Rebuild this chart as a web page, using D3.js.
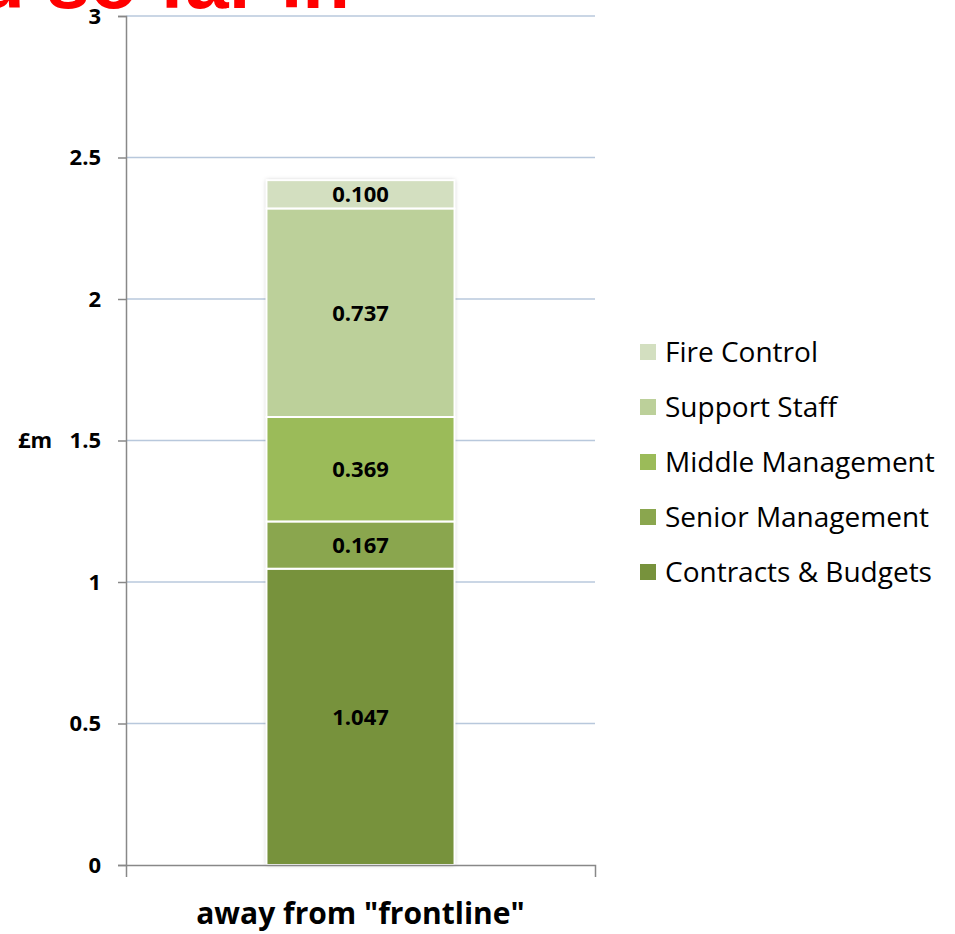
<!DOCTYPE html>
<html>
<head>
<meta charset="utf-8">
<script src="https://cdn.jsdelivr.net/npm/d3@7"></script>
<style>
  body { margin: 0; background: #fff; }
  text { font-family: "Open Sans", "Liberation Sans", sans-serif; }
</style>
</head>
<body>
<div id="root"></div>
<script>
// Chart data
const categories = ["away from \"frontline\""];
const seriesNames = ["Contracts & Budgets", "Senior Management", "Middle Management", "Support Staff", "Fire Control"];
const seriesValues = [1.047, 0.167, 0.369, 0.737, 0.100];
const seriesColors = ["#77923c", "#8aa64e", "#9bbb59", "#bcd09a", "#d3dfc0"];
const yTicks = [0, 0.5, 1, 1.5, 2, 2.5, 3];

const width = 955;
const height = 934;

const svg = d3.select("#root")
  .append("svg")
  .attr("width", width)
  .attr("height", height);

// soft shadow for the bar
const defs = svg.append("defs");
const filter = defs.append("filter").attr("id", "shadow")
  .attr("x", "-10%").attr("y", "-10%").attr("width", "120%").attr("height", "120%");
filter.append("feDropShadow")
  .attr("dx", 0).attr("dy", 0).attr("stdDeviation", 2)
  .attr("flood-color", "#000").attr("flood-opacity", 0.25);

// Scales
const x = d3.scaleBand()
  .domain(categories)
  .range([126, 595])
  .paddingInner(0)
  .paddingOuter(0.747);

const y = d3.scaleLinear()
  .domain([0, 3])
  .range([865, 16]);

// Gridlines
svg.append("g")
  .selectAll("line")
  .data(yTicks.filter(d => d > 0))
  .enter()
  .append("line")
  .attr("x1", 126)
  .attr("x2", 595)
  .attr("y1", d => y(d))
  .attr("y2", d => y(d))
  .attr("stroke", "#b8c8dc")
  .attr("stroke-width", 1.3);

// Title text cut off at the top
svg.append("text")
  .attr("x", 350)
  .attr("y", 8)
  .attr("text-anchor", "end")
  .attr("fill", "#ff0000")
  .attr("font-weight", "bold")
  .attr("font-size", "78px")
  .attr("style", "font-family: 'Liberation Sans', Arial, sans-serif;")
  .text("d so far in");

// Stacked bar
let base = 0;
const stacked = seriesValues.map((v, i) => {
  const seg = { name: seriesNames[i], value: v, y0: base, y1: base + v, color: seriesColors[i] };
  base += v;
  return seg;
});

const barX = x(categories[0]);
const barW = x.bandwidth();

svg.append("rect")
  .attr("x", barX)
  .attr("y", y(base))
  .attr("width", barW)
  .attr("height", y(0) - y(base))
  .attr("fill", "#fff")
  .attr("filter", "url(#shadow)");

const bar = svg.append("g");

bar.selectAll("rect")
  .data(stacked)
  .enter()
  .append("rect")
  .attr("x", barX)
  .attr("y", d => y(d.y1))
  .attr("width", barW)
  .attr("height", d => y(d.y0) - y(d.y1))
  .attr("fill", d => d.color)
  .attr("stroke", "#fff")
  .attr("stroke-width", 2);

bar.selectAll("text")
  .data(stacked)
  .enter()
  .append("text")
  .attr("x", barX + barW / 2)
  .attr("y", d => (y(d.y0) + y(d.y1)) / 2)
  .attr("dy", "0.36em")
  .attr("text-anchor", "middle")
  .attr("font-weight", "bold")
  .attr("font-size", "22px")
  .attr("fill", "#000")
  .text(d => d.value.toFixed(3));

// Y axis
const yAxis = d3.axisLeft(y)
  .tickValues(yTicks)
  .tickSize(8)
  .tickPadding(17)
  .tickFormat(d => d);

const yG = svg.append("g")
  .attr("transform", "translate(126,0)")
  .call(yAxis);
yG.select(".domain").attr("stroke", "#888").attr("stroke-width", 1.5);
yG.selectAll(".tick line").attr("stroke", "#888").attr("stroke-width", 1.5);
yG.selectAll(".tick text")
  .attr("font-size", "22px")
  .attr("font-weight", "bold")
  .attr("fill", "#000")
  .attr("style", "font-family: 'Open Sans', sans-serif;");

// X axis
const xAxis = d3.axisBottom(x).tickValues([]).tickSizeOuter(12);
const xG = svg.append("g")
  .attr("transform", "translate(0,865)")
  .call(xAxis);
xG.select(".domain").attr("stroke", "#888").attr("stroke-width", 1.5);

svg.append("text")
  .attr("x", barX + barW / 2)
  .attr("y", 924)
  .attr("text-anchor", "middle")
  .attr("font-weight", "bold")
  .attr("font-size", "30px")
  .text(categories[0]);

// Y axis unit label
svg.append("text")
  .attr("x", 18)
  .attr("y", y(1.5))
  .attr("dy", "0.36em")
  .attr("font-weight", "bold")
  .attr("font-size", "22px")
  .text("£m");

// Legend
const legendItems = seriesNames.map((n, i) => ({ name: n, color: seriesColors[i] })).reverse();
const legend = svg.append("g")
  .attr("transform", "translate(640,352)");

const row = legend.selectAll("g")
  .data(legendItems)
  .enter()
  .append("g")
  .attr("transform", (d, i) => "translate(0," + i * 55 + ")");

row.append("rect")
  .attr("x", 0)
  .attr("y", -8)
  .attr("width", 16)
  .attr("height", 16)
  .attr("fill", d => d.color);

row.append("text")
  .attr("x", 25)
  .attr("y", 0)
  .attr("dy", "0.36em")
  .attr("font-size", "28px")
  .attr("fill", "#000")
  .text(d => d.name);
</script>
</body>
</html>
